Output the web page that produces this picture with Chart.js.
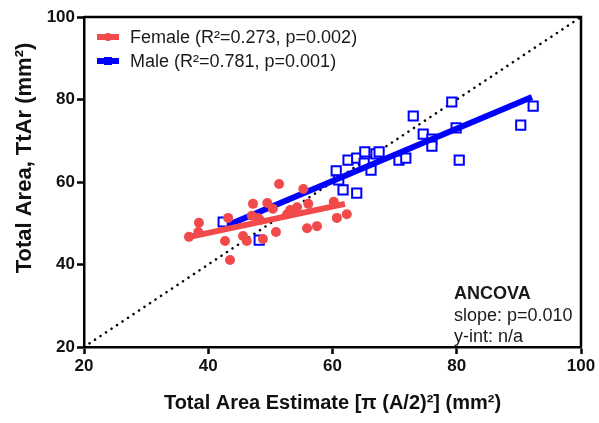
<!DOCTYPE html>
<html>
<head>
<meta charset="utf-8">
<script src="https://cdn.jsdelivr.net/npm/chart.js@4.4.1/dist/chart.umd.min.js"></script>
<style>
    html, body { margin: 0; padding: 0; background: #fff; }
    #wrap { width: 599px; height: 423px; }
</style>
</head>
<body>
<div id="wrap"><canvas id="areaChart" width="599" height="423"></canvas></div>
<script>
// Female (red circles)
const femaleX = [36.9, 38.4, 38.5, 42.7, 43.5, 43.2, 45.6, 46.2, 47.0, 47.2, 48.8, 49.5, 50.4, 48.3, 50.9,
    51.4, 55.3, 56.1, 55.9, 57.5, 60.2, 60.7, 62.3, 48.0, 54.3, 52.7, 53.2];
const femaleY = [46.7, 47.9, 50.1, 45.7, 41.1, 51.3, 46.9, 45.7, 51.8, 54.7, 46.2, 54.9, 53.5, 50.8, 47.9,
    59.5, 58.3, 54.7, 48.8, 49.3, 55.2, 51.3, 52.2, 51.3, 53.9, 52.2, 53.2];

// Male (blue squares)
const maleX = [42.4, 48.2, 60.6, 61.0, 61.7, 63.9, 62.5, 63.9, 65.2, 65.1, 66.2, 67.0, 67.5, 70.7, 71.8,
    73.0, 74.6, 76.0, 76.0, 79.2, 79.9, 80.4, 90.3, 92.3];
const maleY = [50.3, 45.9, 62.7, 60.5, 58.1, 57.3, 65.3, 65.8, 67.3, 64.6, 62.9, 66.8, 67.3, 65.3, 65.8,
    76.0, 71.6, 70.4, 68.7, 79.4, 73.1, 65.3, 73.8, 78.4];

// regression line endpoints
const femaleFitX = [37.0, 62.0];
const femaleFitY = [46.7, 54.7];
const maleFitX = [43.2, 92.1];
const maleFitY = [49.6, 80.6];

// line of identity
const identityX = [20, 100];
const identityY = [20, 100];

const axisTicks = [20, 40, 60, 80, 100];
const legendLabels = ["Female (R\u00B2=0.273, p=0.002)", "Male (R\u00B2=0.781, p=0.001)"];
const ancovaLines = ["ANCOVA", "slope: p=0.010", "y-int: n/a"];
const yTitle = "Total Area, TtAr (mm\u00B2)";

const RED = "#f24a4a";
const BLUE = "#0000ff";
const FONT = "'Liberation Sans', Arial, sans-serif";

function toPoints(xs, ys) {
    return xs.map(function (x, i) {
        return {x: x, y: ys[i]};
    });
}

// box around the plot area, legend, y title and ANCOVA note
const framePlugin = {
    id: "framePlugin",
    afterDraw: function (chart) {
        const ctx = chart.ctx;
        const a = chart.chartArea;
        ctx.save();
        ctx.strokeStyle = "#000";
        ctx.lineWidth = 2.5;
        ctx.beginPath();
        ctx.moveTo(a.left, a.top);
        ctx.lineTo(a.right, a.top);
        ctx.lineTo(a.right, a.bottom);
        ctx.stroke();

        // legend
        const colors = [RED, BLUE];
        ctx.font = "18px " + FONT;
        ctx.textBaseline = "middle";
        ctx.textAlign = "left";
        legendLabels.forEach(function (text, i) {
            const y = 37 + i * 24;
            ctx.fillStyle = colors[i];
            ctx.fillRect(97, y - 3, 22, 6);
            if (i === 0) {
                ctx.beginPath();
                ctx.arc(108, y, 4, 0, Math.PI * 2);
                ctx.fill();
            } else {
                ctx.fillRect(104, y - 4, 8, 8);
            }
            ctx.fillStyle = "#1a1a1a";
            ctx.fillText(text, 130, y + 1);
        });

        // ANCOVA note
        ctx.fillStyle = "#1a1a1a";
        ctx.font = "bold 18px " + FONT;
        ctx.fillText(ancovaLines[0], 454, 294);
        ctx.font = "18px " + FONT;
        ctx.fillText(ancovaLines[1], 454, 316);
        ctx.fillText(ancovaLines[2], 454, 337);

        // y axis title (sits a bit above the axis centre)
        ctx.translate(25, 158);
        ctx.rotate(-Math.PI / 2);
        ctx.textAlign = "center";
        ctx.fillStyle = "#111";
        ctx.font = "bold 22px " + FONT;
        ctx.fillText(yTitle, 0, 0);
        ctx.restore();
    },
};

function createAreaChart() {
    const ctx = document.getElementById("areaChart").getContext("2d");

    new Chart(ctx, {
        type: "scatter",
        data: {
            datasets: [
                {
                    label: "female fit",
                    type: "line",
                    data: toPoints(femaleFitX, femaleFitY),
                    borderColor: RED,
                    borderWidth: 6,
                    pointRadius: 0,
                    order: 1,
                },
                {
                    label: "female",
                    data: toPoints(femaleX, femaleY),
                    backgroundColor: RED,
                    borderColor: RED,
                    pointRadius: 5,
                    borderWidth: 0,
                    order: 2,
                },
                {
                    label: "male fit",
                    type: "line",
                    data: toPoints(maleFitX, maleFitY),
                    borderColor: BLUE,
                    borderWidth: 6,
                    pointRadius: 0,
                    order: 3,
                },
                {
                    label: "male",
                    data: toPoints(maleX, maleY),
                    pointStyle: "rect",
                    backgroundColor: "#fff",
                    borderColor: BLUE,
                    pointRadius: 6.5,
                    borderWidth: 2,
                    order: 4,
                },
                {
                    label: "identity",
                    type: "line",
                    data: toPoints(identityX, identityY),
                    borderColor: "#000",
                    borderWidth: 2.5,
                    borderDash: [0.1, 6.5],
                    borderCapStyle: "round",
                    pointRadius: 0,
                    order: 5,
                },
            ],
        },
        options: {
            responsive: false,
            animation: false,
            layout: {
                padding: {left: 0, top: 17, right: 18, bottom: 0},
            },
            plugins: {
                tooltip: {enabled: false},
                legend: {display: false},
            },
            scales: {
                x: {
                    type: "linear",
                    min: 20,
                    max: 100,
                    afterBuildTicks: function (scale) {
                        scale.ticks = axisTicks.map(function (v) {
                            return {value: v};
                        });
                    },
                    afterFit: function (scale) {
                        scale.height = 76;
                    },
                    border: {color: "#000", width: 2.5},
                    grid: {
                        drawOnChartArea: false,
                        drawTicks: true,
                        tickLength: 7,
                        tickWidth: 2.5,
                        tickColor: "#000",
                    },
                    ticks: {
                        color: "#111",
                        padding: 2,
                        maxRotation: 0,
                        font: {family: FONT, size: 17, weight: "bold"},
                    },
                    title: {
                        display: true,
                        text: "Total Area Estimate [\u03C0 (A/2)\u00B2] (mm\u00B2)",
                        color: "#111",
                        font: {family: FONT, size: 20, weight: "bold"},
                        padding: {top: 4, bottom: 8},
                    },
                },
                y: {
                    type: "linear",
                    min: 20,
                    max: 100,
                    afterBuildTicks: function (scale) {
                        scale.ticks = axisTicks.map(function (v) {
                            return {value: v};
                        });
                    },
                    afterFit: function (scale) {
                        scale.width = 84;
                    },
                    border: {color: "#000", width: 2.5},
                    grid: {
                        drawOnChartArea: false,
                        drawTicks: true,
                        tickLength: 7,
                        tickWidth: 2.5,
                        tickColor: "#000",
                    },
                    ticks: {
                        color: "#111",
                        padding: 2,
                        font: {family: FONT, size: 17, weight: "bold"},
                    },
                },
            },
        },
        plugins: [framePlugin],
    });
}

document.addEventListener("DOMContentLoaded", createAreaChart);
</script>
</body>
</html>
